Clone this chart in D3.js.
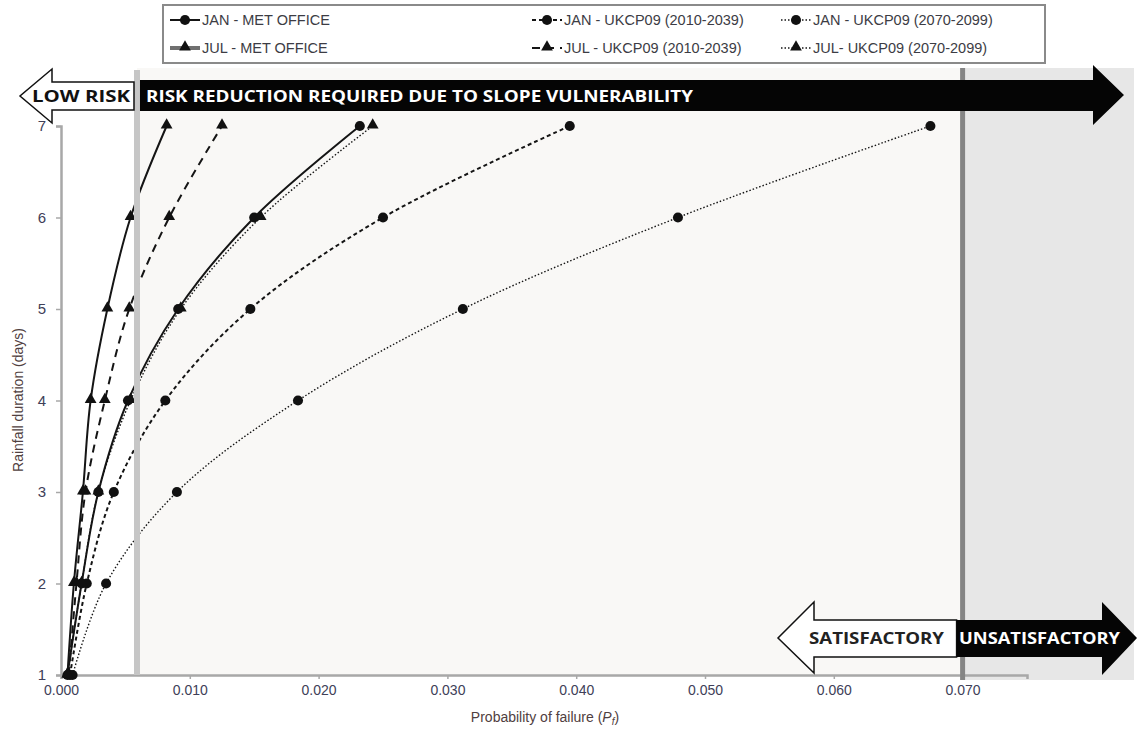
<!DOCTYPE html>
<html>
<head>
<meta charset="utf-8">
<script src="https://cdn.jsdelivr.net/npm/d3@7"></script>
<style>
  body { margin: 0; background: #fff; }
  svg { display: block; font-family: "Liberation Sans", Arial, sans-serif; }
</style>
</head>
<body>
<div class="canvas"></div>
<script>
// rainfall duration (days) on the y axis
const days = [1, 2, 3, 4, 5, 6, 7];

// probability of failure per series
const janMet = [0.0005, 0.0016, 0.0029, 0.0052, 0.0091, 0.0150, 0.0232];
const julMet = [0.0005, 0.0010, 0.0017, 0.0023, 0.0036, 0.0054, 0.0082];
const jan2010 = [0.0007, 0.0020, 0.0041, 0.0081, 0.0147, 0.0250, 0.0395];
const jul2010 = [0.0006, 0.0012, 0.0019, 0.0034, 0.0053, 0.0084, 0.0125];
const jan2070 = [0.0009, 0.0035, 0.0090, 0.0184, 0.0312, 0.0479, 0.0675];
const jul2070 = [0.0005, 0.0016, 0.0029, 0.0054, 0.0093, 0.0155, 0.0242];

const seriesNames = [
    'JAN - MET OFFICE', 'JUL - MET OFFICE',
    'JAN - UKCP09 (2010-2039)', 'JUL - UKCP09 (2010-2039)',
    'JAN - UKCP09 (2070-2099)', 'JUL- UKCP09 (2070-2099)'
];

const xTicks = [0, 0.01, 0.02, 0.03, 0.04, 0.05, 0.06, 0.07];
const yTicks = [1, 2, 3, 4, 5, 6, 7];

// thresholds
const lowRiskLimit = 0.0059;
const satisfactoryLimit = 0.070;

const dims = {width: 1139, height: 736};

const svg = d3.select('.canvas')
    .append('svg')
    .attr('width', dims.width)
    .attr('height', dims.height);

const x = d3.scaleLinear().domain([0, 0.075]).range([61, 1027]);
const y = d3.scaleLinear().domain([1, 7]).range([675, 126]);

const styles = {
    met: {dash: null, width: 2},
    mid: {dash: '4,3', width: 2},
    midJul: {dash: '8,6', width: 2},
    far: {dash: '1.5,2', width: 1.4}
};

const series = [
    {name: seriesNames[0], vals: janMet, marker: 'circle', st: styles.met},
    {name: seriesNames[1], vals: julMet, marker: 'triangle', st: styles.met},
    {name: seriesNames[2], vals: jan2010, marker: 'circle', st: styles.mid},
    {name: seriesNames[3], vals: jul2010, marker: 'triangle', st: styles.midJul},
    {name: seriesNames[4], vals: jan2070, marker: 'circle', st: styles.far},
    {name: seriesNames[5], vals: jul2070, marker: 'triangle', st: styles.far}
];

// background zones
const zoneTop = 68, zoneBottom = 677;
svg.append('rect')
    .attr('x', x(lowRiskLimit)).attr('y', zoneTop)
    .attr('width', x(satisfactoryLimit) - x(lowRiskLimit))
    .attr('height', zoneBottom - zoneTop)
    .attr('fill', '#f9f8f6');
svg.append('rect')
    .attr('x', x(satisfactoryLimit)).attr('y', zoneTop)
    .attr('width', 1134 - x(satisfactoryLimit))
    .attr('height', zoneBottom - zoneTop + 3)
    .attr('fill', '#e7e7e7');

// axes
const xAxis = d3.axisBottom(x).tickValues(xTicks).tickFormat(d3.format('.3f')).tickSize(4).tickPadding(6);
const yAxis = d3.axisLeft(y).tickValues(yTicks).tickFormat(d3.format('d')).tickSize(5).tickPadding(10);

const gx = svg.append('g').attr('transform', `translate(0, ${y(1)})`).call(xAxis);
const gy = svg.append('g').attr('transform', `translate(${x(0)}, 0)`).call(yAxis);

[gx, gy].forEach(g => {
    g.select('.domain').attr('stroke', '#a8a8a8').attr('stroke-width', 2.5);
    g.selectAll('.tick line').attr('stroke', '#a8a8a8').attr('stroke-width', 1.5);
    g.selectAll('.tick text')
        .attr('fill', '#404058')
        .style('font-family', '"Liberation Sans", Arial, sans-serif')
        .style('font-size', '14px');
});
gy.selectAll('.tick text').style('font-size', '15px');

// lines
const line = d3.line()
    .x(d => x(d[0]))
    .y(d => y(d[1]))
    .curve(d3.curveCatmullRom.alpha(0.5));

const plot = svg.append('g');
series.forEach(s => {
    const pts = s.vals.map((v, i) => [v, days[i]]);
    plot.append('path')
        .datum(pts)
        .attr('d', line)
        .attr('fill', 'none')
        .attr('stroke', '#151515')
        .attr('stroke-width', s.st.width)
        .attr('stroke-dasharray', s.st.dash);
});

const symCircle = d3.symbol().type(d3.symbolCircle).size(80);
const symTri = d3.symbol().type(d3.symbolTriangle).size(60);

series.forEach(s => {
    plot.selectAll(null)
        .data(s.vals.map((v, i) => [v, days[i]]))
        .enter().append('path')
        .attr('transform', d => `translate(${x(d[0])}, ${y(d[1]) - (s.marker === 'triangle' ? 1 : 0)})`)
        .attr('d', s.marker === 'circle' ? symCircle() : symTri())
        .attr('fill', '#111');
});

// threshold lines
svg.append('line')
    .attr('x1', x(lowRiskLimit)).attr('x2', x(lowRiskLimit))
    .attr('y1', 70).attr('y2', y(1))
    .attr('stroke', '#c6c6c6').attr('stroke-width', 6);
svg.append('line')
    .attr('x1', x(satisfactoryLimit)).attr('x2', x(satisfactoryLimit))
    .attr('y1', zoneTop).attr('y2', 680)
    .attr('stroke', '#858585').attr('stroke-width', 5);

// arrows
const arrowPath = pts => 'M' + pts.map(p => p.join(',')).join('L') + 'Z';

// top: low risk (left, white) and risk reduction (right, black)
const bx0 = x(lowRiskLimit) + 3;
svg.append('path')
    .attr('d', arrowPath([[bx0, 80], [1093, 80], [1093, 65], [1124, 95], [1093, 125], [1093, 111], [bx0, 111]]))
    .attr('fill', '#050505');
svg.append('path')
    .attr('d', arrowPath([[x(lowRiskLimit) - 3, 82], [52, 82], [52, 69], [20, 96], [52, 123], [52, 110], [x(lowRiskLimit) - 3, 110]]))
    .attr('fill', '#fff').attr('stroke', '#111').attr('stroke-width', 1.5);

// bottom: satisfactory / unsatisfactory
const sx = x(satisfactoryLimit) - 6;
svg.append('path')
    .attr('d', arrowPath([[sx, 620], [814, 620], [814, 602], [778, 638], [814, 673], [814, 657], [sx, 657]]))
    .attr('fill', '#fff').attr('stroke', '#111').attr('stroke-width', 1.5);
svg.append('path')
    .attr('d', arrowPath([[sx, 620], [1102, 620], [1102, 602], [1137, 638], [1102, 675], [1102, 657], [sx, 657]]))
    .attr('fill', '#050505');

const arrowText = (tx, ty, txt, len, col) => svg.append('text')
    .attr('x', tx).attr('y', ty)
    .attr('textLength', len).attr('lengthAdjust', 'spacingAndGlyphs')
    .attr('fill', col)
    .style('font-family', '"Open Sans", "DejaVu Sans", sans-serif')
    .style('font-weight', 700)
    .style('font-size', '16px')
    .text(txt);

arrowText(146, 102, 'RISK REDUCTION REQUIRED DUE TO SLOPE VULNERABILITY', 547, '#fff');
arrowText(32, 102, 'LOW RISK', 98, '#111');
arrowText(809, 644, 'SATISFACTORY', 135, '#222');
arrowText(959, 644, 'UNSATISFACTORY', 161, '#fff');

// axis titles
svg.append('text')
    .attr('transform', 'translate(23, 400) rotate(-90)')
    .attr('text-anchor', 'middle')
    .attr('fill', '#504040')
    .style('font-size', '14px')
    .text('Rainfall duration (days)');

const xt = svg.append('text')
    .attr('x', 545).attr('y', 722)
    .attr('text-anchor', 'middle')
    .attr('fill', '#504040')
    .style('font-size', '14px');
xt.append('tspan').text('Probability of failure (');
xt.append('tspan').style('font-style', 'italic').text('P');
xt.append('tspan').style('font-style', 'italic').style('font-size', '10px').attr('dy', 3).text('f');
xt.append('tspan').attr('dy', -3).text(')');

// legend
const legend = svg.append('g');
legend.append('rect')
    .attr('x', 163).attr('y', 5).attr('width', 882).attr('height', 58)
    .attr('fill', '#fff').attr('stroke', '#8a8a8a').attr('stroke-width', 2);

const legendCols = [170, 532, 781];
const legendRows = [20, 48];
series.forEach((s, i) => {
    const cx = legendCols[Math.floor(i / 2)];
    const cy = legendRows[i % 2];
    const isJulMet = i === 1;
    legend.append('line')
        .attr('x1', cx).attr('x2', cx + 30)
        .attr('y1', cy).attr('y2', cy)
        .attr('stroke', isJulMet ? '#707070' : '#151515')
        .attr('stroke-width', isJulMet ? 4 : s.st.width)
        .attr('stroke-dasharray', s.st.dash);
    legend.append('path')
        .attr('transform', `translate(${cx + 15}, ${cy - (s.marker === 'triangle' ? 1 : 0)})`)
        .attr('d', s.marker === 'circle' ? symCircle() : symTri())
        .attr('fill', '#111');
    legend.append('text')
        .attr('x', cx + 32).attr('y', cy + 5)
        .attr('fill', '#3c3c44')
        .style('font-size', '14.5px')
        .text(s.name);
});
</script>
</body>
</html>
